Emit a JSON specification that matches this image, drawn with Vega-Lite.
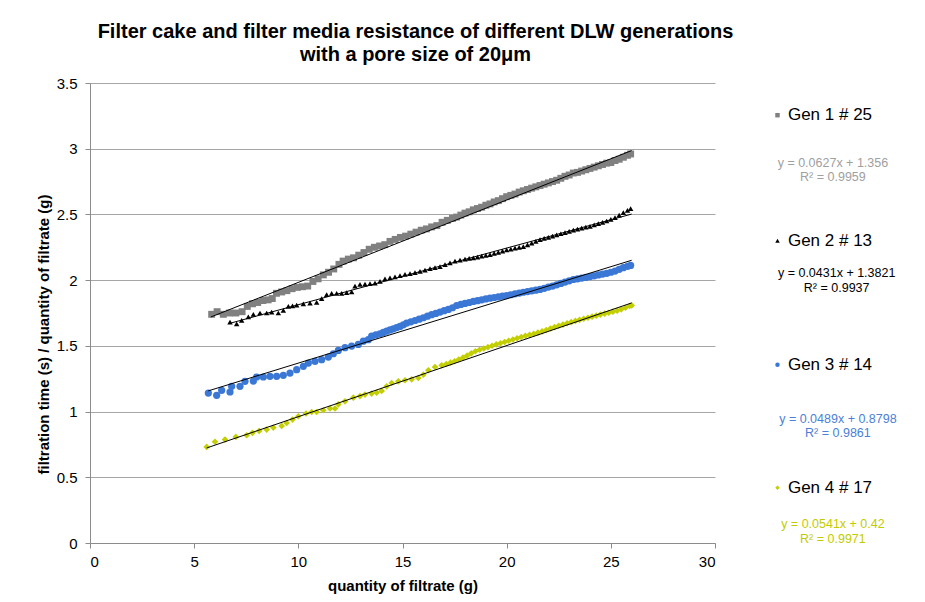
{
  "$schema": "https://vega.github.io/schema/vega-lite/v6.json",
  "width": 625,
  "height": 460,
  "autosize": {"type": "none"},
  "padding": {"left": 90, "top": 83, "right": 210, "bottom": 59},
  "background": "white",
  "config": {
    "font": "Liberation Sans",
    "view": {"stroke": null},
    "axis": {"labelColor": "#000", "titleColor": "#000", "domainColor": "#8c8c8c", "tickColor": "#8c8c8c", "tickSize": 5, "labelFontSize": 15, "titleFontSize": 15, "titleFontWeight": "bold", "labelFont": "Liberation Sans", "titleFont": "Liberation Sans"}
  },
  "title": {
    "text": ["Filter cake and filter media resistance of different DLW generations", "with a pore size of 20μm"],
    "fontSize": 20,
    "fontWeight": "bold",
    "color": "#000",
    "font": "Liberation Sans",
    "anchor": "middle",
    "dx": 13,
    "lineHeight": 23,
    "offset": 11
  },
  "datasets": {
    "g1": [
      {"x":5.84,"y":1.74},{"x":6.10,"y":1.76},{"x":6.40,"y":1.74},{"x":6.70,"y":1.75},{"x":7.00,"y":1.75},{"x":7.30,"y":1.76},{"x":7.55,"y":1.80},{"x":7.80,"y":1.82},{"x":8.05,"y":1.83},{"x":8.30,"y":1.845},{"x":8.55,"y":1.85},{"x":8.75,"y":1.86},{"x":8.95,"y":1.90},{"x":9.20,"y":1.91},{"x":9.45,"y":1.92},{"x":9.70,"y":1.935},{"x":9.95,"y":1.945},{"x":10.20,"y":1.95},{"x":10.45,"y":1.955},{"x":10.70,"y":1.99},{"x":10.95,"y":2.01},{"x":11.20,"y":2.04},{"x":11.45,"y":2.06},{"x":11.70,"y":2.085},{"x":11.95,"y":2.12},{"x":12.15,"y":2.145},{"x":12.40,"y":2.16},{"x":12.65,"y":2.17},{"x":12.90,"y":2.19},{"x":13.15,"y":2.21},{"x":13.40,"y":2.235},{"x":13.65,"y":2.25},{"x":13.90,"y":2.26},{"x":14.15,"y":2.27},{"x":14.40,"y":2.295},{"x":14.65,"y":2.31},{"x":14.90,"y":2.325},{"x":15.15,"y":2.335},{"x":15.40,"y":2.35},{"x":15.65,"y":2.365},{"x":15.90,"y":2.38},{"x":16.15,"y":2.39},{"x":16.40,"y":2.405},{"x":16.65,"y":2.415},{"x":16.90,"y":2.44},{"x":17.15,"y":2.455},{"x":17.40,"y":2.47},{"x":17.60,"y":2.48},{"x":17.80,"y":2.495},{"x":18.00,"y":2.51},{"x":18.20,"y":2.52},{"x":18.40,"y":2.535},{"x":18.60,"y":2.545},{"x":18.80,"y":2.555},{"x":19.00,"y":2.57},{"x":19.20,"y":2.58},{"x":19.40,"y":2.595},{"x":19.60,"y":2.605},{"x":19.80,"y":2.62},{"x":20.00,"y":2.635},{"x":20.20,"y":2.645},{"x":20.40,"y":2.655},{"x":20.60,"y":2.67},{"x":20.80,"y":2.68},{"x":21.00,"y":2.69},{"x":21.20,"y":2.70},{"x":21.40,"y":2.71},{"x":21.60,"y":2.72},{"x":21.80,"y":2.73},{"x":22.00,"y":2.74},{"x":22.20,"y":2.75},{"x":22.40,"y":2.76},{"x":22.60,"y":2.775},{"x":22.80,"y":2.79},{"x":23.00,"y":2.80},{"x":23.20,"y":2.815},{"x":23.40,"y":2.82},{"x":23.60,"y":2.83},{"x":23.80,"y":2.84},{"x":24.00,"y":2.85},{"x":24.20,"y":2.86},{"x":24.40,"y":2.87},{"x":24.60,"y":2.88},{"x":24.80,"y":2.89},{"x":25.00,"y":2.895},{"x":25.20,"y":2.91},{"x":25.40,"y":2.92},{"x":25.60,"y":2.935},{"x":25.80,"y":2.95},{"x":25.95,"y":2.96}
    ],
    "g2": [
      {"x":6.72,"y":1.68},{"x":7.04,"y":1.668},{"x":7.28,"y":1.693},{"x":7.60,"y":1.72},{"x":7.84,"y":1.74},{"x":8.16,"y":1.75},{"x":8.48,"y":1.75},{"x":8.72,"y":1.757},{"x":9.04,"y":1.75},{"x":9.28,"y":1.77},{"x":9.52,"y":1.80},{"x":9.72,"y":1.805},{"x":9.92,"y":1.81},{"x":10.24,"y":1.82},{"x":10.56,"y":1.825},{"x":10.88,"y":1.83},{"x":11.12,"y":1.86},{"x":11.36,"y":1.89},{"x":11.60,"y":1.90},{"x":11.84,"y":1.90},{"x":12.08,"y":1.90},{"x":12.32,"y":1.905},{"x":12.56,"y":1.91},{"x":12.72,"y":1.954},{"x":12.96,"y":1.967},{"x":13.20,"y":1.97},{"x":13.44,"y":1.973},{"x":13.68,"y":1.978},{"x":13.92,"y":1.99},{"x":14.16,"y":2.01},{"x":14.40,"y":2.018},{"x":14.64,"y":2.025},{"x":14.88,"y":2.035},{"x":15.12,"y":2.043},{"x":15.36,"y":2.05},{"x":15.60,"y":2.058},{"x":15.84,"y":2.066},{"x":16.08,"y":2.077},{"x":16.32,"y":2.088},{"x":16.56,"y":2.095},{"x":16.80,"y":2.103},{"x":17.04,"y":2.118},{"x":17.28,"y":2.132},{"x":17.52,"y":2.145},{"x":17.76,"y":2.153},{"x":18.00,"y":2.16},{"x":18.20,"y":2.165},{"x":18.40,"y":2.17},{"x":18.60,"y":2.176},{"x":18.80,"y":2.182},{"x":19.00,"y":2.188},{"x":19.20,"y":2.194},{"x":19.40,"y":2.203},{"x":19.60,"y":2.212},{"x":19.80,"y":2.221},{"x":20.00,"y":2.23},{"x":20.20,"y":2.236},{"x":20.40,"y":2.243},{"x":20.60,"y":2.249},{"x":20.80,"y":2.255},{"x":21.00,"y":2.268},{"x":21.20,"y":2.281},{"x":21.40,"y":2.295},{"x":21.60,"y":2.308},{"x":21.80,"y":2.317},{"x":22.00,"y":2.326},{"x":22.20,"y":2.335},{"x":22.40,"y":2.344},{"x":22.60,"y":2.353},{"x":22.80,"y":2.362},{"x":23.00,"y":2.371},{"x":23.20,"y":2.38},{"x":23.40,"y":2.388},{"x":23.60,"y":2.395},{"x":23.80,"y":2.403},{"x":24.00,"y":2.41},{"x":24.20,"y":2.42},{"x":24.40,"y":2.43},{"x":24.60,"y":2.44},{"x":24.80,"y":2.45},{"x":25.00,"y":2.462},{"x":25.20,"y":2.476},{"x":25.40,"y":2.495},{"x":25.60,"y":2.513},{"x":25.80,"y":2.53},{"x":25.95,"y":2.545}
    ],
    "g3": [
      {"x":5.68,"y":1.141},{"x":6.08,"y":1.124},{"x":6.32,"y":1.162},{"x":6.72,"y":1.149},{"x":6.80,"y":1.192},{"x":7.20,"y":1.192},{"x":7.44,"y":1.23},{"x":7.84,"y":1.232},{"x":8.00,"y":1.263},{"x":8.32,"y":1.263},{"x":8.64,"y":1.268},{"x":8.96,"y":1.268},{"x":9.28,"y":1.276},{"x":9.60,"y":1.293},{"x":9.92,"y":1.319},{"x":10.24,"y":1.344},{"x":10.48,"y":1.369},{"x":10.80,"y":1.382},{"x":11.12,"y":1.395},{"x":11.44,"y":1.415},{"x":11.68,"y":1.44},{"x":11.92,"y":1.465},{"x":12.24,"y":1.486},{"x":12.56,"y":1.498},{"x":12.88,"y":1.511},{"x":13.12,"y":1.536},{"x":13.36,"y":1.547},{"x":13.52,"y":1.574},{"x":13.72,"y":1.583},{"x":13.92,"y":1.592},{"x":14.08,"y":1.602},{"x":14.24,"y":1.612},{"x":14.40,"y":1.621},{"x":14.56,"y":1.63},{"x":14.72,"y":1.639},{"x":14.88,"y":1.648},{"x":15.04,"y":1.66},{"x":15.20,"y":1.673},{"x":15.40,"y":1.683},{"x":15.60,"y":1.693},{"x":15.80,"y":1.703},{"x":16.00,"y":1.714},{"x":16.20,"y":1.726},{"x":16.40,"y":1.737},{"x":16.60,"y":1.747},{"x":16.80,"y":1.757},{"x":17.00,"y":1.768},{"x":17.20,"y":1.777},{"x":17.40,"y":1.79},{"x":17.60,"y":1.807},{"x":17.80,"y":1.815},{"x":18.00,"y":1.823},{"x":18.20,"y":1.83},{"x":18.40,"y":1.838},{"x":18.60,"y":1.844},{"x":18.80,"y":1.85},{"x":19.00,"y":1.857},{"x":19.20,"y":1.863},{"x":19.40,"y":1.868},{"x":19.60,"y":1.873},{"x":19.80,"y":1.878},{"x":20.00,"y":1.883},{"x":20.20,"y":1.889},{"x":20.40,"y":1.896},{"x":20.60,"y":1.902},{"x":20.80,"y":1.908},{"x":21.00,"y":1.913},{"x":21.20,"y":1.919},{"x":21.40,"y":1.924},{"x":21.60,"y":1.929},{"x":21.80,"y":1.938},{"x":22.00,"y":1.947},{"x":22.20,"y":1.955},{"x":22.40,"y":1.964},{"x":22.60,"y":1.975},{"x":22.80,"y":1.985},{"x":23.00,"y":1.995},{"x":23.20,"y":2.005},{"x":23.40,"y":2.01},{"x":23.60,"y":2.016},{"x":23.80,"y":2.021},{"x":24.00,"y":2.027},{"x":24.20,"y":2.033},{"x":24.40,"y":2.04},{"x":24.60,"y":2.046},{"x":24.80,"y":2.052},{"x":25.00,"y":2.06},{"x":25.20,"y":2.069},{"x":25.40,"y":2.082},{"x":25.60,"y":2.095},{"x":25.80,"y":2.105},{"x":25.95,"y":2.112}
    ],
    "g4": [
      {"x":5.60,"y":0.731},{"x":6.00,"y":0.77},{"x":6.48,"y":0.787},{"x":7.00,"y":0.807},{"x":7.52,"y":0.82},{"x":7.80,"y":0.838},{"x":8.12,"y":0.853},{"x":8.48,"y":0.863},{"x":8.80,"y":0.878},{"x":9.20,"y":0.891},{"x":9.44,"y":0.913},{"x":9.72,"y":0.939},{"x":10.00,"y":0.964},{"x":10.37,"y":0.985},{"x":10.64,"y":0.997},{"x":10.88,"y":0.997},{"x":11.20,"y":1.01},{"x":11.52,"y":1.023},{"x":11.76,"y":1.023},{"x":11.92,"y":1.055},{"x":12.24,"y":1.078},{"x":12.64,"y":1.106},{"x":12.96,"y":1.118},{"x":13.20,"y":1.129},{"x":13.52,"y":1.137},{"x":13.76,"y":1.144},{"x":14.00,"y":1.157},{"x":14.24,"y":1.192},{"x":14.48,"y":1.217},{"x":14.80,"y":1.23},{"x":15.12,"y":1.238},{"x":15.44,"y":1.245},{"x":15.76,"y":1.255},{"x":16.00,"y":1.281},{"x":16.24,"y":1.314},{"x":16.56,"y":1.339},{"x":16.88,"y":1.352},{"x":17.10,"y":1.362},{"x":17.30,"y":1.372},{"x":17.50,"y":1.383},{"x":17.70,"y":1.396},{"x":17.90,"y":1.41},{"x":18.10,"y":1.426},{"x":18.30,"y":1.443},{"x":18.50,"y":1.459},{"x":18.70,"y":1.47},{"x":18.90,"y":1.48},{"x":19.10,"y":1.49},{"x":19.30,"y":1.501},{"x":19.50,"y":1.511},{"x":19.70,"y":1.52},{"x":19.90,"y":1.529},{"x":20.10,"y":1.539},{"x":20.30,"y":1.548},{"x":20.50,"y":1.558},{"x":20.70,"y":1.567},{"x":20.90,"y":1.576},{"x":21.10,"y":1.584},{"x":21.30,"y":1.592},{"x":21.50,"y":1.601},{"x":21.70,"y":1.61},{"x":21.90,"y":1.621},{"x":22.10,"y":1.632},{"x":22.30,"y":1.643},{"x":22.50,"y":1.653},{"x":22.70,"y":1.662},{"x":22.90,"y":1.672},{"x":23.10,"y":1.681},{"x":23.30,"y":1.69},{"x":23.50,"y":1.698},{"x":23.70,"y":1.706},{"x":23.90,"y":1.714},{"x":24.10,"y":1.722},{"x":24.30,"y":1.73},{"x":24.50,"y":1.738},{"x":24.70,"y":1.745},{"x":24.90,"y":1.752},{"x":25.10,"y":1.76},{"x":25.30,"y":1.768},{"x":25.50,"y":1.778},{"x":25.70,"y":1.79},{"x":25.90,"y":1.803},{"x":26.00,"y":1.808}
    ],
    "trend": [
      {"s":"Gen 1 # 25","x":5.8,"y":1.7197,"x2":26,"y2":2.986},
      {"s":"Gen 2 # 13","x":6.7,"y":1.671,"x2":26,"y2":2.5027},
      {"s":"Gen 3 # 14","x":5.68,"y":1.1576,"x2":26,"y2":2.1512},
      {"s":"Gen 4 # 17","x":5.6,"y":0.723,"x2":26,"y2":1.8266}
    ],
    "legend": [
      {"s":"Gen 1 # 25","x":33.0,"xt":33.5,"y":3.255},
      {"s":"Gen 2 # 13","x":33.0,"xt":33.5,"y":2.300},
      {"s":"Gen 3 # 14","x":33.0,"xt":33.5,"y":1.357},
      {"s":"Gen 4 # 17","x":33.0,"xt":33.5,"y":0.420}
    ],
    "eq": [
      {"s":"Gen 1 # 25","t":"y = 0.0627x  + 1.356","x":35.66,"y":2.895},
      {"s":"Gen 1 # 25","t":"R² = 0.9959","x":35.66,"y":2.786},
      {"s":"Gen 2 # 13","t":"y = 0.0431x  + 1.3821","x":35.84,"y":2.052},
      {"s":"Gen 2 # 13","t":"R² = 0.9937","x":35.84,"y":1.944},
      {"s":"Gen 3 # 14","t":"y = 0.0489x  + 0.8798","x":35.9,"y":0.941},
      {"s":"Gen 3 # 14","t":"R² = 0.9861","x":35.9,"y":0.840},
      {"s":"Gen 4 # 17","t":"y = 0.0541x  + 0.42","x":35.66,"y":0.142},
      {"s":"Gen 4 # 17","t":"R² = 0.9971","x":35.66,"y":0.030}
    ]
  },
  "encoding": {
    "x": {"field": "x", "type": "quantitative", "scale": {"domain": [0, 30], "nice": false, "zero": false},
      "axis": {"values": [0,5,10,15,20,25,30], "grid": false, "title": "quantity of filtrate  (g)", "labelPadding": 6, "titleY": 47, "titleBaseline": "alphabetic"}},
    "y": {"field": "y", "type": "quantitative", "scale": {"domain": [0, 3.5], "nice": false, "zero": false},
      "axis": {"values": [0,0.5,1,1.5,2,2.5,3,3.5], "format": "~g", "grid": true, "gridColor": "#a6a6a6", "title": "filtration time (s) / quantity of filtrate (g)", "labelPadding": 8, "titleX": -47, "titleY": 251, "titleBaseline": "middle"}}
  },
  "layer": [
    {"data": {"name": "g1"}, "mark": {"type": "point", "shape": "square", "filled": true, "size": 48, "color": "#808080", "opacity": 1}},
    {"data": {"name": "g2"}, "mark": {"type": "point", "shape": "triangle-up", "filled": true, "size": 30, "color": "#000000", "opacity": 1}},
    {"data": {"name": "g3"}, "mark": {"type": "point", "shape": "circle", "filled": true, "size": 52, "color": "#3b78d6", "opacity": 1}},
    {"data": {"name": "g4"}, "mark": {"type": "point", "shape": "diamond", "filled": true, "size": 44, "color": "#c3cf00", "opacity": 1}},
    {"data": {"name": "trend"}, "mark": {"type": "rule", "color": "#000", "strokeWidth": 1},
      "encoding": {"x2": {"field": "x2"}, "y2": {"field": "y2"}}},
    {"data": {"name": "legend"}, "mark": {"type": "point", "filled": true, "size": 20, "opacity": 1, "clip": false},
      "encoding": {
        "shape": {"field": "s", "type": "nominal", "scale": {"domain": ["Gen 1 # 25","Gen 2 # 13","Gen 3 # 14","Gen 4 # 17"], "range": ["square","triangle-up","circle","diamond"]}, "legend": null},
        "color": {"field": "s", "type": "nominal", "scale": {"domain": ["Gen 1 # 25","Gen 2 # 13","Gen 3 # 14","Gen 4 # 17"], "range": ["#808080","#000000","#3b78d6","#c3cf00"]}, "legend": null}
      }},
    {"data": {"name": "legend"}, "mark": {"type": "text", "align": "left", "baseline": "middle", "fontSize": 17, "color": "#000", "clip": false},
      "encoding": {"x": {"field": "xt", "type": "quantitative"}, "text": {"field": "s"}}},
    {"data": {"name": "eq"}, "mark": {"type": "text", "align": "center", "baseline": "middle", "fontSize": 12.5, "clip": false},
      "encoding": {"text": {"field": "t"},
        "color": {"field": "s", "type": "nominal", "scale": {"domain": ["Gen 1 # 25","Gen 2 # 13","Gen 3 # 14","Gen 4 # 17"], "range": ["#a0a0a0","#000000","#4a80d8","#c0cc00"]}, "legend": null}}}
  ],
  "resolve": {"scale": {"color": "independent"}}
}
